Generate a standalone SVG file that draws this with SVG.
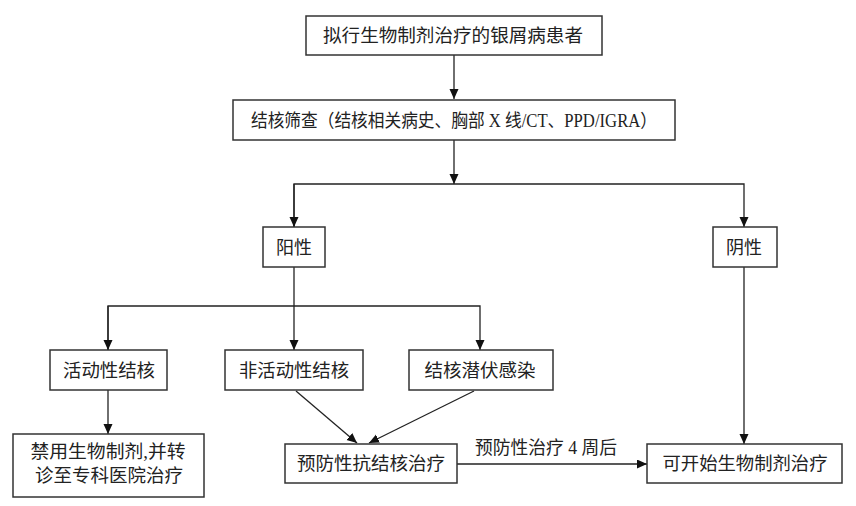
<svg xmlns="http://www.w3.org/2000/svg" width="856" height="506" viewBox="0 0 856 506">
<style>
.box{fill:#fff;stroke:#333;stroke-width:1.5}
.t{font-family:"Liberation Serif","Noto Sans CJK SC",serif;font-size:18px;fill:#222;text-anchor:middle}
.c{fill:none;stroke:#222;stroke-width:1.3}
</style>
<defs>
<marker id="ah" markerUnits="userSpaceOnUse" markerWidth="11" markerHeight="10" refX="10" refY="4.5" orient="auto">
<path d="M0,0 L10,4.5 L0,9 Z" fill="#111"/>
</marker>
</defs>
<rect width="856" height="506" fill="#fff"/>
<g id="connectors">
<line class="c" x1="454" y1="55" x2="454" y2="99" marker-end="url(#ah)"/>
<line class="c" x1="454" y1="140" x2="454" y2="184" marker-end="url(#ah)"/>
<polyline class="c" points="294,227 294,184 744,184 744,227" marker-end="url(#ah)"/>
<line class="c" x1="294" y1="184" x2="294" y2="227" marker-end="url(#ah)"/>
<line class="c" x1="294" y1="267" x2="294" y2="350" marker-end="url(#ah)"/>
<polyline class="c" points="108,350 108,306 480,306 480,350" marker-end="url(#ah)"/>
<line class="c" x1="108" y1="306" x2="108" y2="350" marker-end="url(#ah)"/>
<line class="c" x1="744" y1="267" x2="744" y2="444" marker-end="url(#ah)"/>
<line class="c" x1="108" y1="390" x2="108" y2="434" marker-end="url(#ah)"/>
<line class="c" x1="296" y1="391" x2="357" y2="443" marker-end="url(#ah)"/>
<line class="c" x1="474" y1="391" x2="369" y2="443" marker-end="url(#ah)"/>
<line class="c" x1="457" y1="464" x2="647" y2="464" marker-end="url(#ah)"/>
<text class="t" x="546" y="454" textLength="142" lengthAdjust="spacingAndGlyphs">预防性治疗 4 周后</text>
</g>
<g id="n1">
<rect class="box" x="306" y="16" width="296" height="39"/>
<text class="t" x="453" y="42" textLength="260" lengthAdjust="spacingAndGlyphs">拟行生物制剂治疗的银屑病患者</text>
</g>
<g id="n2">
<rect class="box" x="233" y="100" width="442" height="40"/>
<text class="t" x="454" y="126.5" textLength="406" lengthAdjust="spacingAndGlyphs">结核筛查（结核相关病史、胸部 X 线/CT、PPD/IGRA）</text>
</g>
<g id="n3">
<rect class="box" x="263" y="227" width="62" height="40"/>
<text class="t" x="294" y="254" textLength="36" lengthAdjust="spacingAndGlyphs">阳性</text>
</g>
<g id="n4">
<rect class="box" x="713" y="227" width="64" height="40"/>
<text class="t" x="744" y="254" textLength="36" lengthAdjust="spacingAndGlyphs">阴性</text>
</g>
<g id="n5">
<rect class="box" x="50" y="350" width="117" height="40"/>
<text class="t" x="109" y="377" textLength="92" lengthAdjust="spacingAndGlyphs">活动性结核</text>
</g>
<g id="n6">
<rect class="box" x="225" y="350" width="138" height="40"/>
<text class="t" x="294" y="377" textLength="110" lengthAdjust="spacingAndGlyphs">非活动性结核</text>
</g>
<g id="n7">
<rect class="box" x="409" y="350" width="144" height="40"/>
<text class="t" x="480" y="377" textLength="111" lengthAdjust="spacingAndGlyphs">结核潜伏感染</text>
</g>
<g id="n8">
<rect class="box" x="13" y="434" width="191" height="63"/>
<text class="t" x="108" y="458" textLength="155" lengthAdjust="spacingAndGlyphs">禁用生物制剂,并转</text>
<text class="t" x="109" y="482" textLength="148" lengthAdjust="spacingAndGlyphs">诊至专科医院治疗</text>
</g>
<g id="n9">
<rect class="box" x="285" y="444" width="172" height="39"/>
<text class="t" x="371" y="470" textLength="148" lengthAdjust="spacingAndGlyphs">预防性抗结核治疗</text>
</g>
<g id="n10">
<rect class="box" x="647" y="444" width="195" height="39"/>
<text class="t" x="745" y="470" textLength="165" lengthAdjust="spacingAndGlyphs">可开始生物制剂治疗</text>
</g>
</svg>
